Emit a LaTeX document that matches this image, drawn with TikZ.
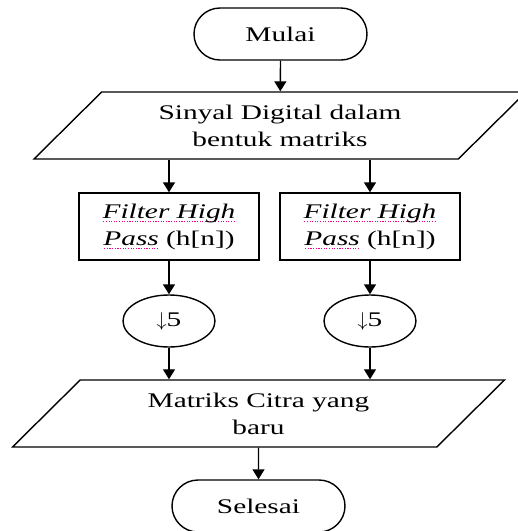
\documentclass[tikz,border=0pt]{standalone}
\usepackage{fontspec}
\setmainfont{Liberation Serif}[FakeStretch=1.41]
\usetikzlibrary{arrows.meta, shapes.geometric}
\tikzset{>={Triangle[length=5pt,width=6pt]}}
\tikzset{
  mulai/.style={rectangle,draw,rounded corners=13pt,minimum width=86.5pt,minimum height=26pt},
  data/.style={trapezium,draw,trapezium left angle=34,trapezium right angle=146,
    trapezium stretches body,minimum width=246pt,minimum height=33.5pt,inner sep=1pt,align=center},
  proses/.style={rectangle,draw,minimum width=90pt,minimum height=33.5pt,inner sep=1pt,align=center},
  turun/.style={ellipse,draw,minimum width=46pt,minimum height=26pt,inner sep=1pt}
}
% kata miring dengan garis titik-titik di bawahnya
\newsavebox{\salahbox}
\newcommand{\salah}[1]{\sbox{\salahbox}{\itshape #1}%
  \rlap{\color{magenta}\raisebox{-2pt}[0pt][0pt]{\hbox to \wd\salahbox{%
    \xleaders\hbox to 1.3pt{\hss\rule{0.55pt}{0.55pt}\hss}\hfill}}}%
  \usebox{\salahbox}}

\begin{document}
\begin{tikzpicture}[x=0.5pt,y=-0.5pt,line width=0.7pt,font=\fontsize{10.4}{13.5}\selectfont]
  \clip (0,0) rectangle (518,531);
  \node (s1) at (280.5,34)[mulai] {Mulai};
  \node (s2) at (280,125.5)[data] {Sinyal Digital dalam\\bentuk matriks};
  \node (s3) at (169,226.5)[proses] {\salah{Filter High}\\\salah{Pass} (h[n])};
  \node (s4) at (370,226.5)[proses] {\salah{Filter High}\\\salah{Pass} (h[n])};
  \node (s5) at (169,321)[turun] {$\downarrow$5};
  \node (s6) at (370,321)[turun] {$\downarrow$5};
  \node (s7) at (258.5,413.5)[data] {Matriks Citra yang\\baru};
  \node (s8) at (258.5,506)[mulai] {Selesai};
    \draw [->] (s1.south) -- (s2);
    \draw [->] (s3 |- s2.south) -- (s3.north);
    \draw [->] (s4 |- s2.south) -- (s4.north);
    \draw [->] (s3.south) -- (s5.north);
    \draw [->] (s4.south) -- (s6.north);
    \draw [->] (s5.south) -- (s5 |- s7.north);
    \draw [->] (s6.south) -- (s6 |- s7.north);
    \draw [->] (s7.south) -- (s8.north);

\end{tikzpicture}
\end{document}
